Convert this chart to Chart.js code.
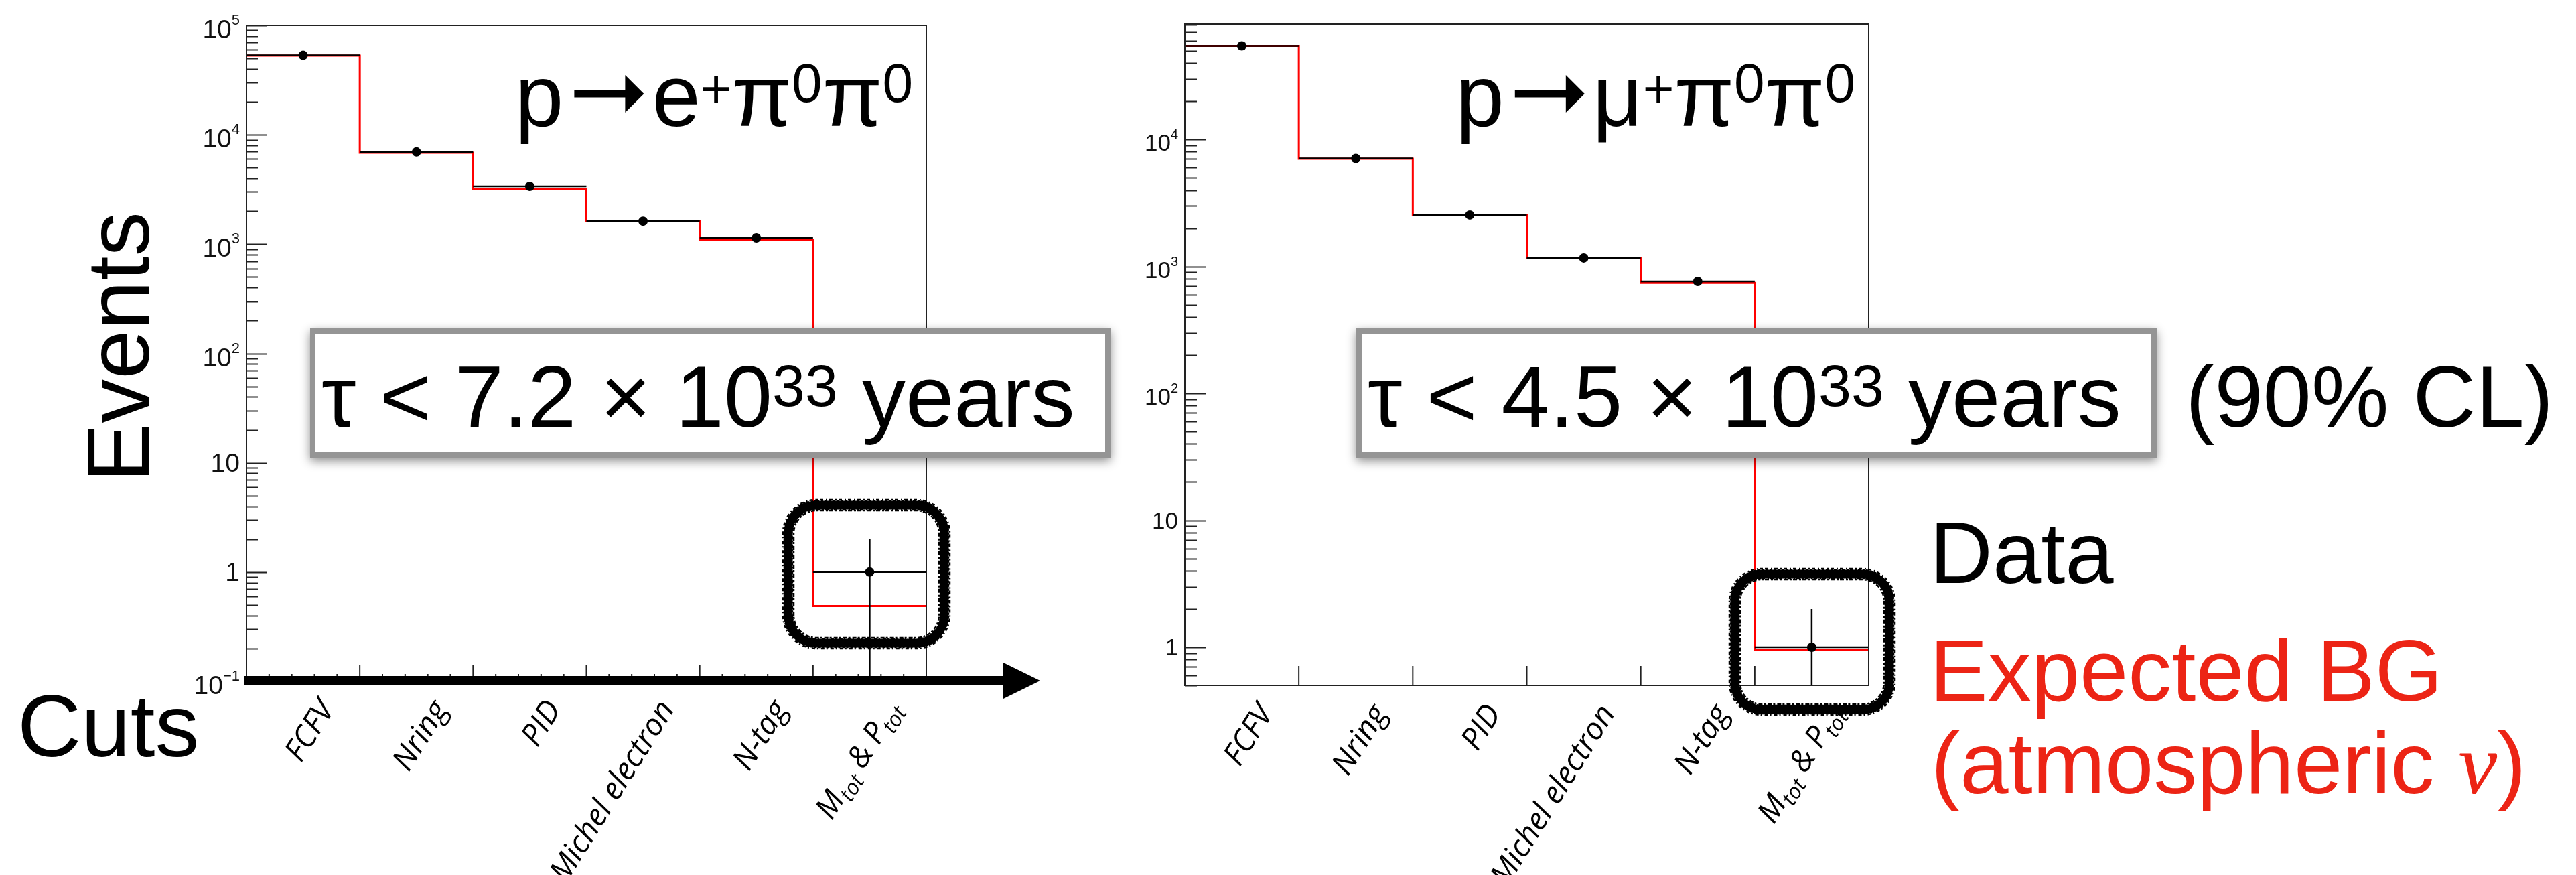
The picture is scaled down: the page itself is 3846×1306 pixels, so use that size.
<!DOCTYPE html>
<html>
<head>
<meta charset="utf-8">
<script src="https://cdn.jsdelivr.net/npm/chart.js@4.4.1/dist/chart.umd.min.js"></script>
<style>
  html, body { margin: 0; background: #fff; }
  #wrap { position: relative; width: 3846px; height: 1306px; }
  #wrap canvas { position: absolute; left: 0; top: 0; }
</style>
</head>
<body>
<div id="wrap">
  <canvas id="left" width="3846" height="1306"></canvas>
  <canvas id="right" width="3846" height="1306"></canvas>
</div>
<script>
// cut flow steps; "_xxx" is drawn as a subscript
const cuts = ['FCFV', 'Nring', 'PID', 'Michel electron', 'N-tag', 'M_tot & P_tot'];

// p -> e+ pi0 pi0
const eData = [53300, 6960, 3380, 1620, 1140, 1];
const eBG = [53000, 6850, 3190, 1610, 1100, 0.49];
const eTicks = [0.1, 1, 10, 100, 1000, 10000, 100000];
const eLimit = '7.2';

// p -> mu+ pi0 pi0
const muData = [54600, 7080, 2540, 1167, 762, 1];
const muBG = [54600, 7050, 2540, 1160, 740, 0.95];
const muTicks = [1, 10, 100, 1000, 10000];
const muLimit = '4.5';

const SANS = '"Liberation Sans", Arial, Helvetica, sans-serif';
const LABEL = '"Open Sans", "DejaVu Sans", sans-serif';
const RED_TEXT = '#ec2415';

// histogram outline: one point per bin edge
function stepPoints(vals) {
  const pts = vals.map((v, i) => ({ x: i, y: v }));
  pts.push({ x: vals.length, y: vals[vals.length - 1] });
  return pts;
}

function runsWidth(ctx, runs) {
  let w = 0;
  for (const r of runs) {
    if (r.arrow) { w += r.w; continue; }
    ctx.font = `${r.style || ''} ${r.size}px ${r.family || SANS}`;
    w += ctx.measureText(r.t).width;
  }
  return w;
}

function drawRuns(ctx, x, y, runs) {
  ctx.textAlign = 'left';
  ctx.textBaseline = 'alphabetic';
  for (const r of runs) {
    if (r.arrow) {
      // fat reaction arrow
      const x0 = x + 16, x1 = x0 + 76, tip = x0 + 104, cy = y - 48;
      ctx.fillRect(x0, cy - 5.5, x1 - x0 + 1, 11);
      ctx.beginPath();
      ctx.moveTo(x1, cy - 28);
      ctx.lineTo(tip, cy);
      ctx.lineTo(x1, cy + 28);
      ctx.closePath();
      ctx.fill();
      x += r.w;
      continue;
    }
    ctx.font = `${r.style || ''} ${r.size}px ${r.family || SANS}`;
    ctx.fillText(r.t, x, y - (r.rise || 0));
    x += ctx.measureText(r.t).width;
  }
  return x;
}

function reaction(lepton) {
  return [
    { t: 'p', size: 130 },
    { arrow: true, w: 132 },
    { t: lepton, size: 130 },
    { t: '+', size: 80, rise: 28 },
    { t: 'π', size: 130 },
    { t: '0', size: 82, rise: 36 },
    { t: 'π', size: 130 },
    { t: '0', size: 82, rise: 36 }
  ];
}

function limitBox(ctx, x, y, w, h, value) {
  ctx.save();
  ctx.shadowColor = 'rgba(0,0,0,0.45)';
  ctx.shadowBlur = 14;
  ctx.shadowOffsetY = 5;
  ctx.fillStyle = '#959595';
  ctx.fillRect(x, y, w, h);
  ctx.restore();
  ctx.fillStyle = '#fff';
  ctx.fillRect(x + 8, y + 8, w - 16, h - 16);
  ctx.fillStyle = '#000';
  drawRuns(ctx, x + 17, y + 147, [
    { t: `τ < ${value} × 10`, size: 130 },
    { t: '33', size: 88, rise: 31 },
    { t: ' years', size: 130 }
  ]);
}

// hand-drawn looking ring around the last bin
function scribble(ctx, x, y, w, h, r) {
  ctx.save();
  ctx.strokeStyle = '#000';
  ctx.lineJoin = 'round';
  ctx.lineWidth = 13;
  ctx.beginPath();
  ctx.roundRect(x, y, w, h, r);
  ctx.stroke();
  ctx.lineWidth = 2.5;
  [[-8, [3, 2, 6, 3]], [-6, [5, 4, 2, 2]], [6, [4, 3, 3, 2]], [8, [2, 3, 5, 4]]].forEach(([o, dash]) => {
    ctx.setLineDash(dash);
    ctx.beginPath();
    ctx.roundRect(x - o, y - o, w + 2 * o, h + 2 * o, Math.max(4, r + o));
    ctx.stroke();
  });
  ctx.restore();
}

function labelPieces(label) {
  return label.split(/(_\w+)/).filter(s => s).map(s =>
    s[0] === '_' ? { t: s.slice(1), sub: true } : { t: s, sub: false });
}

function histPlugin(cfg) {
  return {
    id: 'hist',
    afterDatasetDraw(chart, args) {
      if (args.index !== 1) return;
      // data: bin-wide bars and sqrt(N) error bars, on top of the expected BG
      const { ctx, chartArea: a, scales: { x, y } } = chart;
      ctx.save();
      ctx.beginPath();
      ctx.rect(a.left, a.top, a.right - a.left, a.bottom - a.top);
      ctx.clip();
      ctx.strokeStyle = '#000';
      ctx.lineWidth = 2.5;
      cfg.data.forEach((v, i) => {
        const py = y.getPixelForValue(v);
        const cx = x.getPixelForValue(i + 0.5);
        const err = Math.sqrt(v);
        ctx.beginPath();
        ctx.moveTo(x.getPixelForValue(i), py);
        ctx.lineTo(x.getPixelForValue(i + 1), py);
        ctx.moveTo(cx, y.getPixelForValue(Math.max(v - err, y.min)));
        ctx.lineTo(cx, y.getPixelForValue(v + err));
        ctx.stroke();
      });
      ctx.restore();
    },
    afterDraw(chart) {
      const { ctx, chartArea: a, scales: { x, y } } = chart;
      ctx.save();
      ctx.strokeStyle = '#222';
      ctx.lineWidth = 2;
      ctx.strokeRect(a.left, a.top, a.right - a.left, a.bottom - a.top);

      // log ticks on the y axis
      ctx.beginPath();
      const d0 = Math.floor(Math.log10(y.min)), d1 = Math.ceil(Math.log10(y.max));
      for (let d = d0; d <= d1; d++) {
        for (let m = 1; m <= 9; m++) {
          const v = m * Math.pow(10, d);
          if (v < y.min * 0.999 || v > y.max * 1.001) continue;
          const py = Math.round(y.getPixelForValue(v)) + 0.5;
          ctx.moveTo(a.left, py);
          ctx.lineTo(a.left + (m === 1 ? cfg.yMajor : cfg.yMinor), py);
        }
      }
      // bin edge ticks on the x axis
      for (let i = 0; i <= cuts.length; i++) {
        const px = x.getPixelForValue(i);
        ctx.moveTo(px, a.bottom);
        ctx.lineTo(px, a.bottom - cfg.xMajor);
        if (cfg.xMinor && i < cuts.length) {
          for (let k = 1; k < 5; k++) {
            const mx = x.getPixelForValue(i + k / 5);
            ctx.moveTo(mx, a.bottom);
            ctx.lineTo(mx, a.bottom - cfg.xMinor);
          }
        }
      }
      ctx.stroke();

      // y labels: 10^n
      ctx.fillStyle = '#111';
      cfg.ticks.forEach(v => {
        const e = Math.round(Math.log10(v));
        const py = y.getPixelForValue(v);
        let runs;
        if (e === 0) runs = [{ t: '1', size: cfg.labelSize }];
        else if (e === 1) runs = [{ t: '10', size: cfg.labelSize }];
        else runs = [{ t: '10', size: cfg.labelSize },
                     { t: e < 0 ? '−' + (-e) : String(e), size: cfg.supSize, rise: cfg.supRise }];
        const w = runsWidth(ctx, runs);
        drawRuns(ctx, a.left - 10 - w, py + (runs.length > 1 ? cfg.supShift : cfg.plainShift), runs);
      });

      // rotated cut names
      cuts.forEach((label, i) => {
        const cx = x.getPixelForValue(i + 0.5);
        const parts = labelPieces(label).map(p => ({
          t: p.t, size: p.sub ? 32 : 46, style: 'italic', family: LABEL, rise: p.sub ? -10 : 0
        }));
        const w = runsWidth(ctx, parts);
        ctx.save();
        ctx.translate(cx + 48, a.bottom + 41);
        ctx.rotate(-58 * Math.PI / 180);
        ctx.fillStyle = '#000';
        drawRuns(ctx, -w, 0, parts);
        ctx.restore();
      });

      ctx.fillStyle = '#000';
      const tw = runsWidth(ctx, reaction(cfg.lepton));
      drawRuns(ctx, a.right - 20 - tw, 188, reaction(cfg.lepton));

      cfg.extras(ctx, chart);
      ctx.restore();
    }
  };
}

function makeChart(id, cfg) {
  return new Chart(document.getElementById(id), {
    type: 'line',
    data: {
      datasets: [
        {
          label: 'Data',
          data: cfg.data.map((v, i) => ({ x: i + 0.5, y: v })),
          showLine: false,
          pointRadius: 7,
          pointBackgroundColor: '#000',
          pointBorderWidth: 0
        },
        {
          label: 'Expected BG',
          data: stepPoints(cfg.bg),
          borderColor: '#ff0000',
          borderWidth: 3,
          stepped: 'before',
          pointRadius: 0,
          fill: false
        }
      ]
    },
    options: {
      responsive: false,
      animation: false,
      devicePixelRatio: 1,
      layout: { padding: cfg.padding },
      scales: {
        x: { type: 'linear', min: 0, max: cuts.length, display: false },
        y: { type: 'logarithmic', min: cfg.yMin, max: cfg.yMax, display: false }
      },
      plugins: { legend: { display: false }, tooltip: { enabled: false } }
    },
    plugins: [histPlugin(cfg)]
  });
}

makeChart('left', {
  data: eData, bg: eBG, ticks: eTicks, lepton: 'e',
  yMin: 0.1, yMax: 1e5,
  padding: { left: 368, top: 38, right: 2463, bottom: 289 },
  yMajor: 30, yMinor: 17, xMajor: 24, xMinor: 11,
  labelSize: 39, supSize: 22, supRise: 20, supShift: 19, plainShift: 13,
  extras(ctx) {
    // axis names and the "cuts" arrow
    ctx.fillStyle = '#000';
    ctx.font = `132px ${SANS}`;
    ctx.textAlign = 'left';
    ctx.fillText('Cuts', 26, 1129);
    ctx.save();
    ctx.translate(222, 518);
    ctx.rotate(-Math.PI / 2);
    ctx.textAlign = 'center';
    ctx.fillText('Events', 0, 0);
    ctx.restore();

    ctx.fillRect(365, 1009, 1134, 14);
    ctx.beginPath();
    ctx.moveTo(1498, 989);
    ctx.lineTo(1553, 1016);
    ctx.lineTo(1498, 1043);
    ctx.closePath();
    ctx.fill();

    scribble(ctx, 1177, 754, 233, 206, 42);
    limitBox(ctx, 463, 490, 1195, 193, eLimit);
  }
});

makeChart('right', {
  data: muData, bg: muBG, ticks: muTicks, lepton: 'μ',
  yMin: 0.5, yMax: 81000,
  padding: { left: 1769, top: 36, right: 1056, bottom: 283 },
  yMajor: 32, yMinor: 18, xMajor: 29, xMinor: 0,
  labelSize: 35, supSize: 20, supRise: 18, supShift: 17, plainShift: 12,
  extras(ctx) {
    scribble(ctx, 2590, 857, 231, 202, 40);
    limitBox(ctx, 2025, 490, 1195, 193, muLimit);

    ctx.fillStyle = '#000';
    drawRuns(ctx, 3263, 637, [{ t: '(90% CL)', size: 130 }]);
    drawRuns(ctx, 2881, 870, [{ t: 'Data', size: 130 }]);
    ctx.fillStyle = RED_TEXT;
    drawRuns(ctx, 2881, 1046, [{ t: 'Expected BG', size: 130 }]);
    drawRuns(ctx, 2883, 1184, [
      { t: '(atmospheric ', size: 130 },
      { t: 'ν', size: 130, style: 'italic', family: '"Liberation Serif", "DejaVu Serif", serif' },
      { t: ')', size: 130 }
    ]);
  }
});
</script>
</body>
</html>
